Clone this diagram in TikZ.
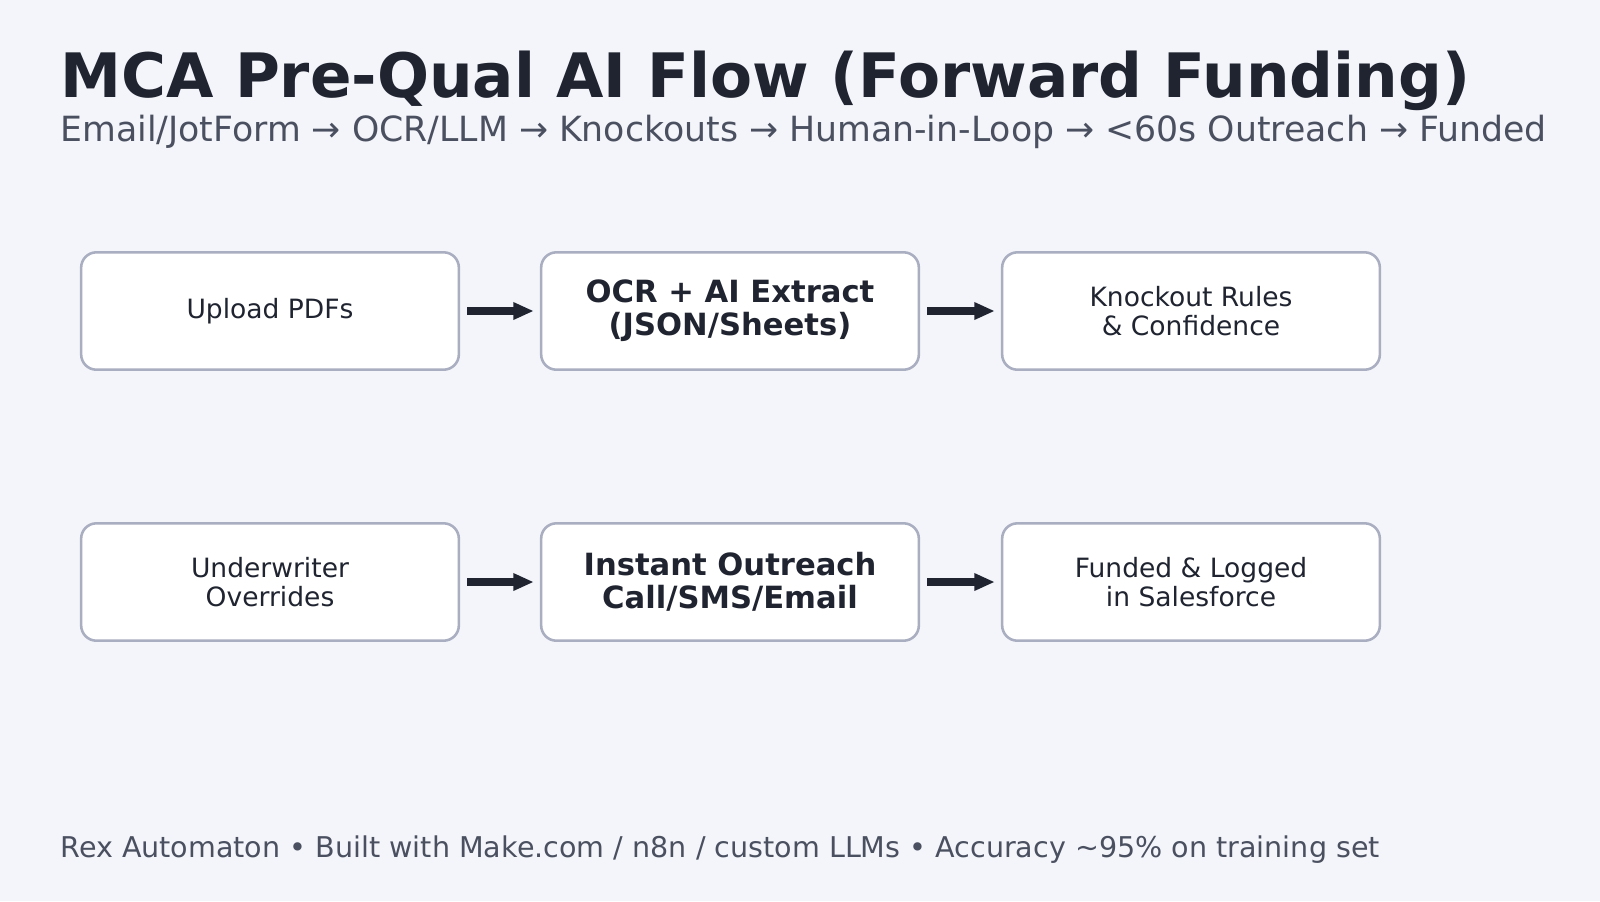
\documentclass[tikz,border=0pt]{standalone}
\usepackage{fontspec}
\setmainfont{DejaVu Sans}
\usetikzlibrary{positioning,arrows.meta}
\definecolor{bgcol}{HTML}{F4F5FA}
\definecolor{inkcol}{HTML}{1F2430}
\definecolor{subcol}{HTML}{4A5060}
\definecolor{edgecol}{HTML}{A9AEC0}
\tikzset{
  stage/.style={draw=edgecol, line width=1.25pt, fill=white, rounded corners=7.5pt,
    minimum width=185pt, minimum height=57.5pt, align=center, text=inkcol,
    font=\fontsize{13}{14.5}\selectfont},
  keystage/.style={stage, font=\fontsize{15}{16}\selectfont\bfseries},
  flow/.style={draw=inkcol, line width=3.5pt, shorten <=3.5pt, shorten >=3pt,
    -{Triangle[length=10pt,width=8pt]}}
}
\begin{document}
\begin{tikzpicture}[x=0.4898pt,y=-0.4898pt]
  \fill[bgcol] (0,0) rectangle (1600,901);
  \useasboundingbox (0,0) rectangle (1600,901);

  % heading
  \node[anchor=base west, inner sep=0, text=inkcol, font=\fontsize{30}{32}\selectfont\bfseries]
    (title) at (60,97) {MCA Pre-Qual AI Flow (Forward Funding)};
  \node[anchor=base west, inner sep=0, text=subcol, font=\fontsize{17}{19}\selectfont]
    (subtitle) at (60,141) {Email/JotForm → OCR/LLM → Knockouts → Human-in-Loop → <60s Outreach → Funded};

  % first row
  \node[stage]    (upload)  at (270,311) {Upload PDFs};
  \node[keystage] (extract) at (730,311) {OCR + AI Extract\\(JSON/Sheets)};
  \node[stage]    (rules)   at (1191,311) {Knockout Rules\\\& Confidence};

  % second row
  \node[stage]    (override) at (270,582) {Underwriter\\Overrides};
  \node[keystage] (outreach) at (730,582) {Instant Outreach\\Call/SMS/Email};
  \node[stage]    (funded)   at (1191,582) {Funded \& Logged\\in Salesforce};

  \draw[flow] (upload) -- (extract);
  \draw[flow] (extract) -- (rules);
  \draw[flow] (override) -- (outreach);
  \draw[flow] (outreach) -- (funded);

  % footer
  \node[anchor=base west, inner sep=0, text=subcol, font=\fontsize{14}{16}\selectfont]
    (footer) at (60,857) {Rex Automaton • Built with Make.com / n8n / custom LLMs • Accuracy \textasciitilde95\% on training set};
\end{tikzpicture}
\end{document}
